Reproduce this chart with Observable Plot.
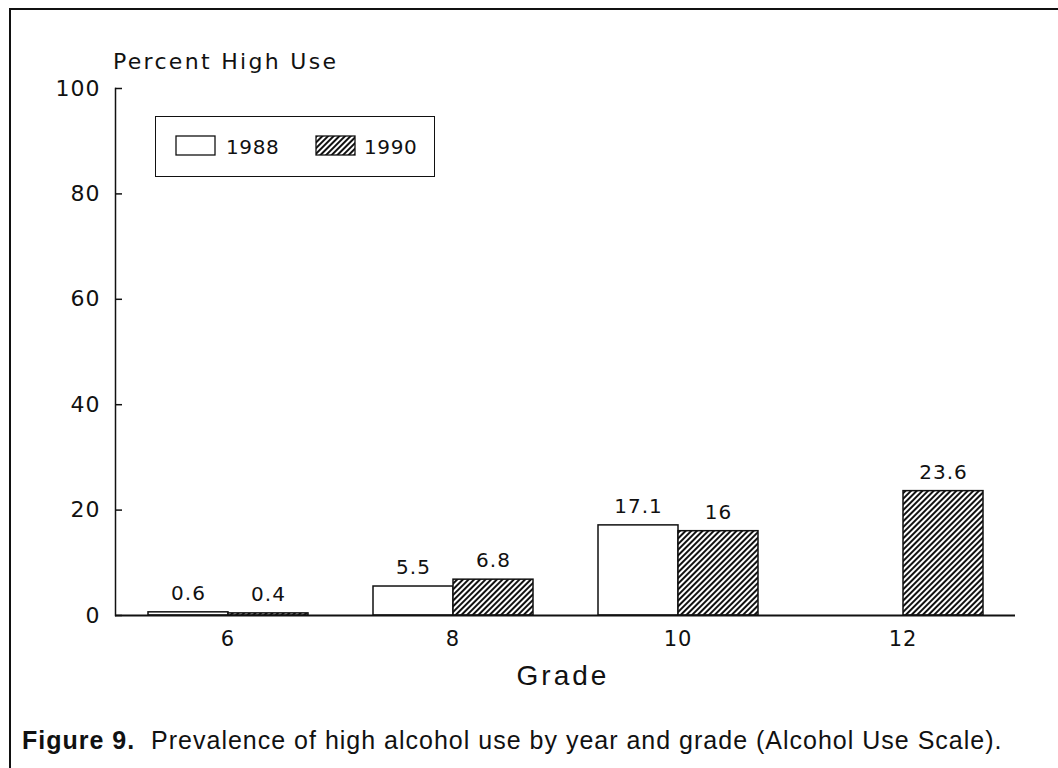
<!DOCTYPE html>
<html><head><meta charset="utf-8">
<script src="https://cdn.jsdelivr.net/npm/d3@7"></script>
<script src="https://cdn.jsdelivr.net/npm/@observablehq/plot@0.6"></script>
<style>
body{margin:0;background:#fff;width:1058px;height:768px;overflow:hidden;position:relative;font-family:"DejaVu Sans",sans-serif;color:#111}
#frame{position:absolute;left:9px;top:8px;width:1049px;height:760px;border-left:2px solid #111;border-top:2px solid #111;box-sizing:border-box}
#chart{position:absolute;left:0;top:0}
#chart svg text{letter-spacing:1px}
#ylabel{position:absolute;left:113px;top:49px;font-size:22px;letter-spacing:2.3px;white-space:nowrap}
#xlabel{position:absolute;left:463px;width:200px;text-align:center;top:660px;font-size:28px;letter-spacing:3px;font-family:"Liberation Sans",Arial,sans-serif}
#caption{position:absolute;left:22px;top:726px;font-size:25px;letter-spacing:1px;font-family:"Liberation Sans",Arial,sans-serif;white-space:nowrap}
#legend{position:absolute;left:155px;top:116px;width:280px;height:61px;border:1.5px solid #111;box-sizing:border-box;font-size:20px;letter-spacing:0.6px}
#legend .sw{position:absolute;top:18px}
#legend .lab{position:absolute;top:18px;line-height:24px}
</style></head><body>
<svg width="0" height="0" style="position:absolute">
  <defs>
    <pattern id="hatch" patternUnits="userSpaceOnUse" width="4" height="4" patternTransform="rotate(45)">
      <rect width="4" height="4" fill="white"/>
      <line x1="2" y1="0" x2="2" y2="4" stroke="#111" stroke-width="2"/>
    </pattern>
  </defs>
</svg>
<div id="frame"></div>
<div id="chart"></div>
<div id="ylabel">Percent High Use</div>
<div id="legend"></div>
<div id="xlabel">Grade</div>
<div id="caption"><b>Figure 9.</b>&nbsp; Prevalence of high alcohol use by year and grade (Alcohol Use Scale).</div>
<script>
const grades = ["6", "8", "10", "12"];
const years = ["1988", "1990"];
const pct1988 = [0.6, 5.5, 17.1, null];
const pct1990 = [0.4, 6.8, 16, 23.6];
const yTicks = [0, 20, 40, 60, 80, 100];
const yearFills = ["white", "url(#hatch)"];

const rows = [];
grades.forEach((g, i) => {
  if (pct1988[i] != null) rows.push({grade: g, year: years[0], value: pct1988[i]});
  if (pct1990[i] != null) rows.push({grade: g, year: years[1], value: pct1990[i]});
});

const plot = Plot.plot({
  width: 1058, height: 705,
  marginLeft: 115, marginRight: 43, marginTop: 88, marginBottom: 90,
  style: {fontFamily: "DejaVu Sans, sans-serif", color: "#111", background: "transparent", overflow: "visible"},
  fx: {domain: grades, paddingInner: 0, paddingOuter: 0, label: null},
  x: {domain: years, paddingInner: 0, paddingOuter: 0.406, axis: null},
  y: {domain: [0, 100]},
  marks: [
    Plot.axisY(yTicks, {tickSize: -7, tickPadding: 22, fontSize: 22, label: null, tickFormat: d => String(d), stroke: "#111", strokeWidth: 1.5}),
    Plot.axisFx({anchor: "bottom", tickSize: 0, tickPadding: 16, fontSize: 21, label: null}),
    ...years.map((yr, k) => Plot.barY(rows.filter(d => d.year === yr), {
      fx: "grade", x: "year", y: "value", fill: yearFills[k], stroke: "#111", strokeWidth: 1.5
    })),
    Plot.ruleY([0], {stroke: "#111", strokeWidth: 2}),
    Plot.frame({anchor: "left", facetAnchor: "left", stroke: "#111", strokeWidth: 1.5}),
    Plot.text(rows, {fx: "grade", x: "year", y: "value", text: d => String(d.value), dy: -19, fontSize: 20, lineAnchor: "middle", fill: "#111"})
  ]
});
document.getElementById("chart").appendChild(plot);

// legend
const leg = document.getElementById("legend");
const swX = [19, 159], labX = [70, 208];
years.forEach((yr, k) => {
  const s = document.createElementNS("http://www.w3.org/2000/svg", "svg");
  s.setAttribute("class", "sw");
  s.setAttribute("width", 42); s.setAttribute("height", 22);
  s.style.left = swX[k] + "px";
  const r = document.createElementNS("http://www.w3.org/2000/svg", "rect");
  r.setAttribute("x", 1); r.setAttribute("y", 1); r.setAttribute("width", 39); r.setAttribute("height", 19);
  r.setAttribute("fill", yearFills[k]); r.setAttribute("stroke", "#111"); r.setAttribute("stroke-width", 1.3);
  s.appendChild(r);
  leg.appendChild(s);
  const t = document.createElement("div");
  t.className = "lab"; t.style.left = labX[k] + "px"; t.textContent = yr;
  leg.appendChild(t);
});
</script>
</body></html>
